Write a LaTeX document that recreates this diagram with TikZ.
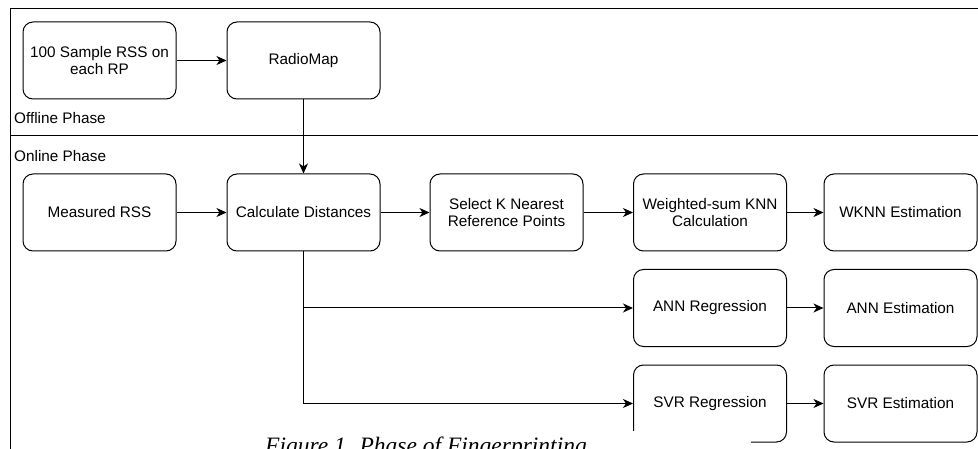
\documentclass[tikz,border=0pt]{standalone}
\usepackage{fontspec}
\setmainfont{Liberation Sans}
\newfontfamily\captionserif{Liberation Serif}
\usetikzlibrary{arrows.meta}
\begin{document}
\begin{tikzpicture}[
    x=1pt, y=-1pt,
    stage/.style={draw, rectangle, rounded corners=10pt, minimum width=153pt, minimum height=77pt, inner sep=2pt, align=center, line width=1pt, font=\fontsize{15.3}{17.6}\selectfont},
    phase/.style={anchor=west, inner sep=0pt, font=\fontsize{15.3}{17.6}\selectfont},
    arrow/.style={-{Stealth[length=10pt, width=9pt, inset=3pt]}, line width=1pt},
    frame/.style={line width=1pt}
]
    \useasboundingbox (0,0) rectangle (978,449);

    % Phase frame
    \draw[frame] (978,9) -- (10,9) -- (10,449);
    \draw[frame] (10,136) -- (978,136);
    \node[phase] (offline) at (14,118) {Offline Phase};
    \node[phase] (online) at (14,156) {Online Phase};

    % Offline phase
    \node[stage] (sample) at (99.5,60.5) {100 Sample RSS on\\each RP};
    \node[stage] (radiomap) at (303.5,60.5) {RadioMap};

    % Online phase, KNN path
    \node[stage] (measured) at (99.5,212.5) {Measured RSS};
    \node[stage] (calcdist) at (303.5,212.5) {Calculate Distances};
    \node[stage] (selectk) at (506.5,212.5) {Select K Nearest\\Reference Points};
    \node[stage] (wsum) at (710,212.5) {Weighted-sum KNN\\Calculation};
    \node[stage] (wknn) at (900.5,212.5) {WKNN Estimation};

    % ANN and SVR paths
    \node[stage] (annreg) at (710,308) {ANN Regression};
    \node[stage] (annest) at (900.5,308) {ANN Estimation};
    \node[stage] (svrreg) at (710,403.5) {SVR Regression};
    \node[stage] (svrest) at (900.5,403.5) {SVR Estimation};

    % Connections
    \draw[arrow] (sample) -- (radiomap);
    \draw[arrow] (radiomap) -- (calcdist);
    \draw[arrow] (measured) -- (calcdist);
    \draw[arrow] (calcdist) -- (selectk);
    \draw[arrow] (selectk) -- (wsum);
    \draw[arrow] (wsum) -- (wknn);
    \draw[arrow] (calcdist.south) |- (annreg.west);
    \draw[arrow] (calcdist.south) |- (svrreg.west);
    \draw[arrow] (annreg) -- (annest);
    \draw[arrow] (svrreg) -- (svrest);

    % Caption pasted over the bottom
    \fill[white] (255,431) rectangle (751,449);
    \node[anchor=base west, inner sep=0pt, font=\captionserif\itshape\fontsize{23.5}{26}\selectfont] (caption) at (265,453) {Figure 1. Phase of Fingerprinting};
\end{tikzpicture}
\end{document}
